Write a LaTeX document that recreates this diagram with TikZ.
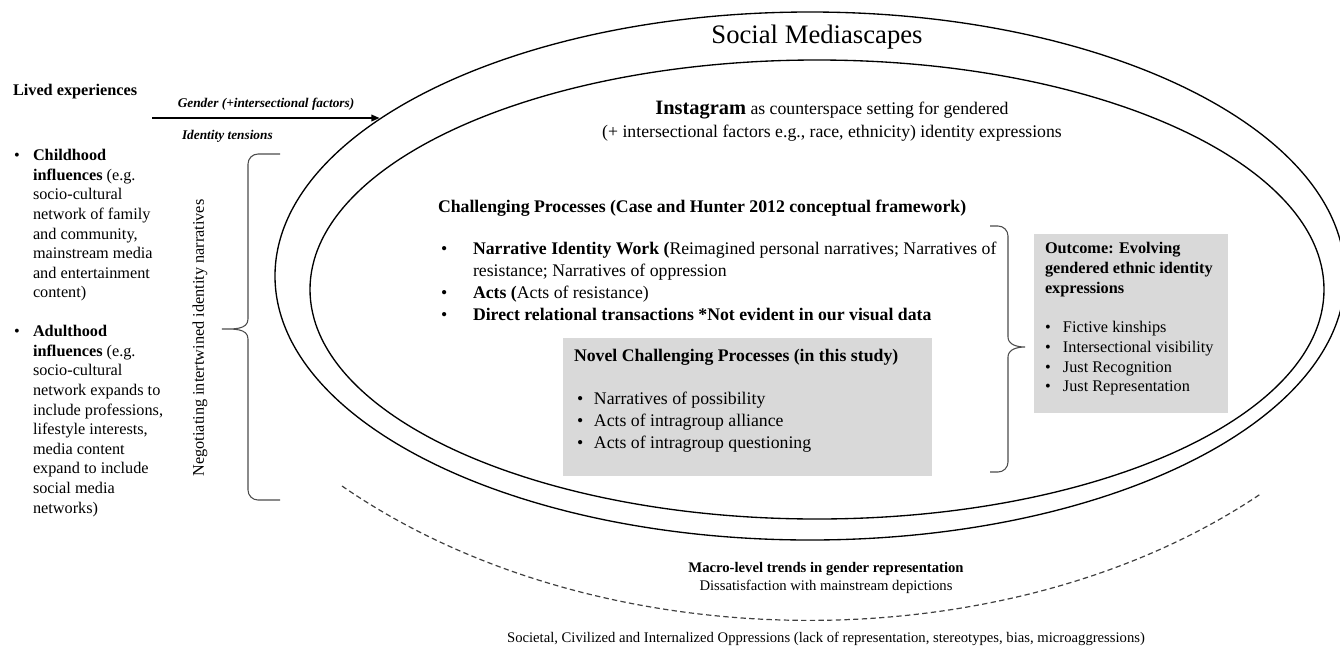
\documentclass[tikz,border=0pt]{standalone}
\usepackage{fontspec}
\setmainfont{Liberation Serif}
\usepackage{tikz}
\usetikzlibrary{shapes.geometric,arrows.meta}
\definecolor{boxgray}{HTML}{D9D9D9}

\begin{document}
\begin{tikzpicture}[x=0.75pt,y=-0.75pt,
  every node/.style={inner sep=0pt, outer sep=0pt},
  ring/.style={ellipse, draw, line width=1pt},
  sidelabel/.style={font=\fontsize{10}{12}\selectfont\bfseries\itshape},
  lefttext/.style={anchor=north west, font=\fontsize{12.2}{14.7}\selectfont},
  leftbold/.style={font=\fontsize{12.2}{14.7}\selectfont\bfseries},
  midtext/.style={font=\fontsize{13.3}{16.5}\selectfont},
  midbold/.style={font=\fontsize{13.3}{16.5}\selectfont\bfseries},
  outtext/.style={anchor=north west, font=\fontsize{12.2}{14.8}\selectfont},
  bottomtext/.style={font=\fontsize{11}{13}\selectfont},
  bottombold/.style={font=\fontsize{11}{13}\selectfont\bfseries},
  graybox/.style={fill=boxgray},
  bracket/.style={draw=black!70, line width=0.8pt},
]
\useasboundingbox (0,0) rectangle (1340,647);

\node[ring, minimum width=802.5pt, minimum height=396pt] (scape) at (810,276) {};
\node[ring, minimum width=760.5pt, minimum height=344.25pt] (instaring) at (817,289.5) {};
\node[font=\fontsize{20}{24}\selectfont] (scapetitle) at (817,37) {Social Mediascapes};
\node[font=\fontsize{13.3}{17.25}\selectfont, align=center] (instatext) at (832,121)
  {{\fontsize{15.3}{17.25}\selectfont\bfseries Instagram} as counterspace setting for gendered\\
   (+ intersectional factors e.g., race, ethnicity) identity expressions};

\node[midbold, anchor=west] (challenge) at (438,208)
  {Challenging Processes (Case and Hunter 2012 conceptual framework)};
\node[midtext, anchor=north west] (challitems) at (441,239) {\begin{tabular}{@{}p{24pt}@{}l@{}}
\textbullet & \textbf{Narrative Identity Work (}Reimagined personal narratives; Narratives of\\
 & resistance; Narratives of oppression\\
\textbullet & \textbf{Acts (}Acts of resistance)\\
\textbullet & \textbf{Direct relational transactions *Not evident in our visual data}
\end{tabular}};

\node[graybox, minimum width=276.75pt, minimum height=103.5pt] (novel) at (747.5,407) {};
\node[midbold, anchor=west] (novelhead) at (574,357)
  {Novel Challenging Processes (in this study)};
\node[midtext, anchor=north west] (novelitems) at (577,389) {\begin{tabular}{@{}p{12.75pt}@{}l@{}}
\textbullet & Narratives of possibility\\
\textbullet & Acts of intragroup alliance\\
\textbullet & Acts of intragroup questioning
\end{tabular}};

\draw[bracket] (990,226) -- (998,226) to[out=0,in=90] (1008,236) -- (1008,337)
  to[out=-90,in=180] (1025,347) to[out=180,in=90] (1008,357) -- (1008,462)
  to[out=-90,in=0] (998,472) -- (990,472);

\node[graybox, minimum width=145.5pt, minimum height=134.25pt] (outcome) at (1131,323.5) {};
\node[outtext] (outcomeitems) at (1045,240) {\begin{tabular}{@{}p{13.5pt}@{}l@{}}
\multicolumn{2}{@{}l@{}}{\textbf{Outcome: Evolving}}\\
\multicolumn{2}{@{}l@{}}{\textbf{gendered ethnic identity}}\\
\multicolumn{2}{@{}l@{}}{\textbf{expressions}}\\
 & \\
\textbullet & Fictive kinships\\
\textbullet & Intersectional visibility\\
\textbullet & Just Recognition\\
\textbullet & Just Representation
\end{tabular}};

\node[leftbold, anchor=west] (lived) at (13,92) {Lived experiences};
\coordinate (livedarrow) at (152,118);
\draw[line width=0.9pt, -{Triangle[length=6pt,width=5pt]}] (livedarrow) -- (livedarrow -| scape.160);
\node[sidelabel] (gender) at (266,104) {Gender (+intersectional factors)};
\node[sidelabel, anchor=west] (tensions) at (182,136) {Identity tensions};

\node[lefttext] (childhood) at (14,147) {\begin{tabular}{@{}p{14.25pt}@{}l@{}}
\textbullet & \textbf{Childhood}\\
 & \textbf{influences} (e.g.\\
 & socio-cultural\\
 & network of family\\
 & and community,\\
 & mainstream media\\
 & and entertainment\\
 & content)
\end{tabular}};
\node[lefttext] (adulthood) at (14,323) {\begin{tabular}{@{}p{14.25pt}@{}l@{}}
\textbullet & \textbf{Adulthood}\\
 & \textbf{influences} (e.g.\\
 & socio-cultural\\
 & network expands to\\
 & include professions,\\
 & lifestyle interests,\\
 & media content\\
 & expand to include\\
 & social media\\
 & networks)
\end{tabular}};
\node[lefttext, anchor=center, rotate=90] (negotiate) at (200,338) {Negotiating intertwined identity narratives};

\draw[bracket] (280,154) -- (258,154) to[out=180,in=90] (248,164) -- (248,319)
  to[out=-90,in=0] (222,329) to[out=0,in=90] (248,339) -- (248,490)
  to[out=-90,in=180] (258,500) -- (280,500);

\draw[black!75, line width=0.9pt, dash pattern=on 4pt off 2.5pt] (342,486) .. controls (600,664) and (1010,664) .. (1262,493);
\node[bottombold] (macro) at (826,569) {Macro-level trends in gender representation};
\node[bottomtext] (dissat) at (826,587) {Dissatisfaction with mainstream depictions};
\node[bottomtext] (societal) at (826,639)
  {Societal, Civilized and Internalized Oppressions (lack of representation, stereotypes, bias, microaggressions)};
\end{tikzpicture}
\end{document}
